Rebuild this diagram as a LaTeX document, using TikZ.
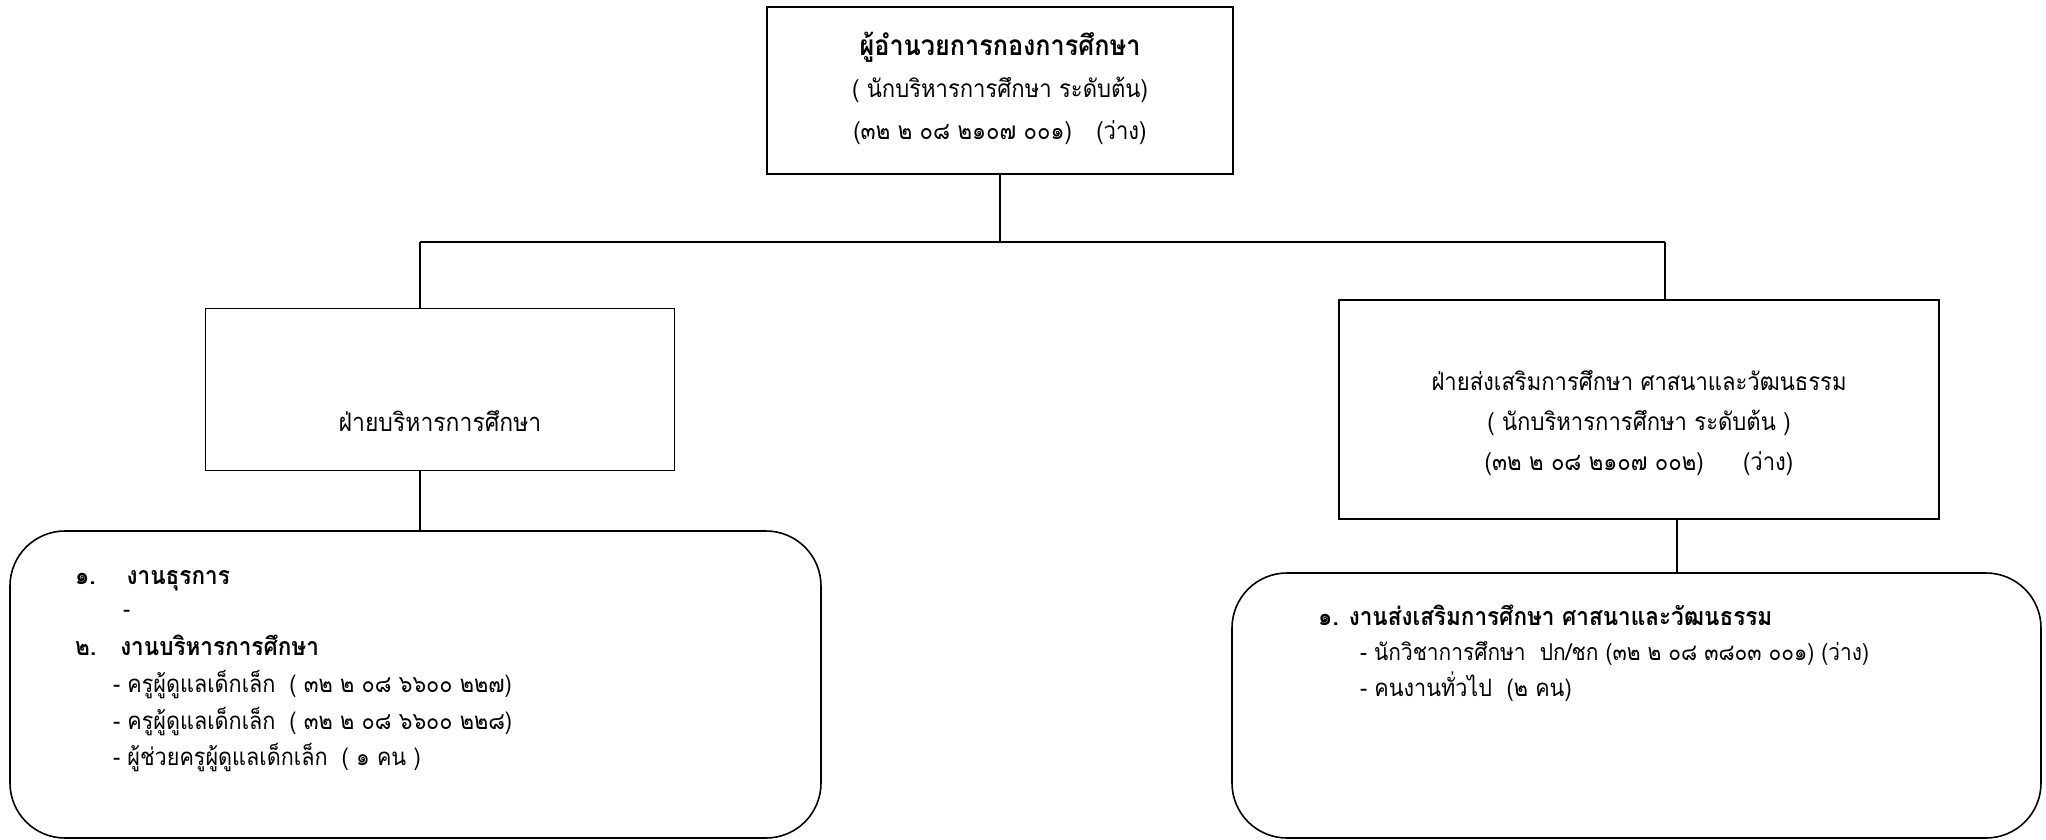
\documentclass[tikz,border=0pt]{standalone}
\usepackage{fontspec}
\newfontfamily\thai[Script=Thai, FakeStretch=0.9]{Loma}
\begin{document}
\begin{tikzpicture}[x=1pt,y=-1pt,
  box/.style={draw, line width=1.6pt, rectangle, inner sep=0pt},
  rbox/.style={draw, line width=1.6pt, rectangle, rounded corners=55pt, inner sep=0pt},
  conn/.style={line width=1.6pt},
  txt/.style={font=\thai\fontsize{24.5}{42}\selectfont, align=center, inner sep=0pt},
  rtxt/.style={font=\thai\fontsize{24.5}{40}\selectfont, align=center, inner sep=0pt},
  item/.style={font=\thai\fontsize{24}{26}\selectfont, anchor=base west, inner sep=0pt},
  head/.style={font=\thai\bfseries\fontsize{25}{26}\selectfont, anchor=base west, inner sep=0pt}]
\useasboundingbox (0,0) rectangle (2046,840);
% boxes
\node[box, minimum width=466pt, minimum height=167pt] (top) at (1000,90.5) {};
\node[box, minimum width=469pt, minimum height=162pt] (lbox) at (440,389.5) {};
\node[box, minimum width=600pt, minimum height=219pt] (rbox) at (1639,409.5) {};
\node[rbox, minimum width=811pt, minimum height=307pt] (lround) at (415.5,684.5) {};
\node[rbox, minimum width=809pt, minimum height=265pt] (rround) at (1636.5,705.5) {};
% texts
\node[txt] (toptxt) at (1000,88) {{\bfseries\fontsize{28}{42}\selectfont ผู้อำนวยการกองการศึกษา}\\( นักบริหารการศึกษา ระดับต้น)\\(๓๒ ๒ ๐๘ ๒๑๐๗ ๐๐๑)\quad (ว่าง)};
\node[txt, font=\thai\fontsize{25.5}{42}\selectfont] (ltxt) at (440,421) {ฝ่ายบริหารการศึกษา};
\node[rtxt] (rtxt) at (1639,423) {ฝ่ายส่งเสริมการศึกษา ศาสนาและวัฒนธรรม\\( นักบริหารการศึกษา ระดับต้น )\\(๓๒ ๒ ๐๘ ๒๑๐๗ ๐๐๒)\quad\ \ (ว่าง)};
% left list
\node[head] (h1) at (75,584) {๑.\hspace{31pt}งานธุรการ};
\node[item] (d1) at (123,617) {-};
\node[head] (h2) at (75,655) {๒.\hspace{24pt}งานบริหารการศึกษา};
\node[item] (l1) at (113,692) {-\hspace{7pt}ครูผู้ดูแลเด็กเล็ก\hspace{14pt}( ๓๒ ๒ ๐๘ ๖๖๐๐ ๒๒๗)};
\node[item] (l2) at (113,729) {-\hspace{7pt}ครูผู้ดูแลเด็กเล็ก\hspace{14pt}( ๓๒ ๒ ๐๘ ๖๖๐๐ ๒๒๘)};
\node[item] (l3) at (113,765) {-\hspace{7pt}ผู้ช่วยครูผู้ดูแลเด็กเล็ก\hspace{14pt}( ๑ คน )};
% right list
\node[head] (r1) at (1318,625) {๑. งานส่งเสริมการศึกษา ศาสนาและวัฒนธรรม};
\node[item, font=\thai\fontsize{23.2}{26}\selectfont] (r2) at (1360,660) {-\hspace{7pt}นักวิชาการศึกษา\ \ ปก/ชก (๓๒ ๒ ๐๘ ๓๘๐๓ ๐๐๑) (ว่าง)};
\node[item] (r3) at (1360,696) {-\hspace{7pt}คนงานทั่วไป\ \ (๒ คน)};
% connectors
\coordinate (busL) at (420,242);
\coordinate (busR) at (1665,242);
\coordinate (rdrop) at (1677,519);
\draw[conn] (top.south) -- (top.south |- busL);
\draw[conn] (busL) -- (busR);
\draw[conn] (busL) -- (busL |- lbox.north);
\draw[conn] (busR) -- (busR |- rbox.north);
\draw[conn] (lbox.south -| busL) -- (lround.north -| busL);
\draw[conn] (rbox.south -| rdrop) -- (rround.north -| rdrop);
\end{tikzpicture}
\end{document}
